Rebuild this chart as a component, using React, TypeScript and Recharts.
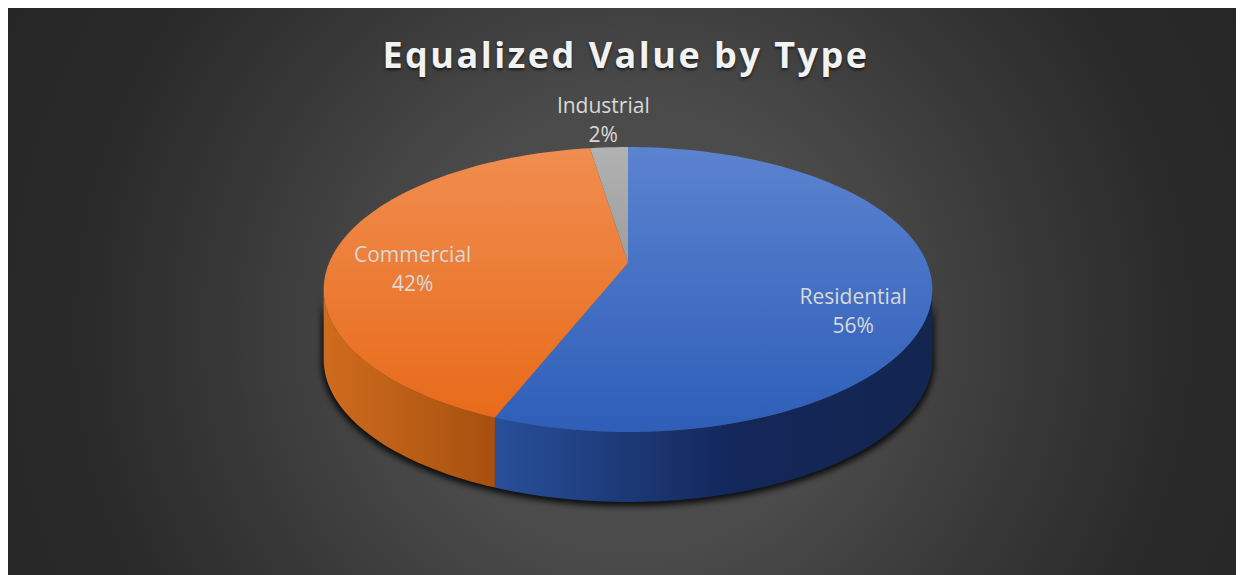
import React from "react";
import { PieChart, Pie, Cell } from "recharts";

// values (share of equalized value, %)
const CATEGORIES = ["Residential", "Commercial", "Industrial"];
const SHARES = [56.0, 41.6, 2.4];

const TOP_COLORS = [
  ["#5b83cf", "#2e5eb9"],
  ["#f08d50", "#e86b1a"],
  ["#b2b2b2", "#9d9d9d"],
];
const SIDE_COLORS = [
  ["#284f99", "#13275a", "#132650"],
  ["#cf6b1d", "#b85d15", "#a6500f"],
  ["#8a8a8a", "#7a7a7a", "#6f6f6f"],
];

const rows = CATEGORIES.map((name, i) => ({ name, value: SHARES[i] }));

// fake 3d: tilt the disc and add a little perspective
const TILT = 0.46;
const PERSP = 0.186;
const DEPTH = 70;
const RIM = (Math.asin(PERSP) * 180) / Math.PI;

const project = (cx: number, cy: number, r: number, deg: number) => {
  const a = (deg * Math.PI) / 180;
  const u = Math.cos(a);
  const v = Math.sin(a);
  const d = 1 + PERSP * v;
  return [cx + (r * u) / d, cy - (r * TILT * v) / d];
};

const arc = (cx: number, cy: number, r: number, from: number, to: number, dy = 0) => {
  const n = Math.max(2, Math.ceil(Math.abs(to - from) / 1.5));
  const pts: string[] = [];
  for (let k = 0; k <= n; k++) {
    const [x, y] = project(cx, cy, r, from + ((to - from) * k) / n);
    pts.push(`${x.toFixed(2)},${(y + dy).toFixed(2)}`);
  }
  return pts;
};

const sidePath = (cx: number, cy: number, r: number, from: number, to: number) => {
  const upper = arc(cx, cy, r, from, to);
  const lower = arc(cx, cy, r, to, from, DEPTH);
  return `M${upper.join("L")}L${lower.join("L")}Z`;
};

// part of a slice that lies on the visible (front) rim
const frontParts = (hiAngle: number, loAngle: number) => {
  const parts: [number, number][] = [];
  for (const k of [0, -360]) {
    const hi = Math.min(hiAngle, -RIM + k);
    const lo = Math.max(loAngle, -180 + RIM + k);
    if (hi > lo) parts.push([hi, lo]);
  }
  return parts;
};

const renderSlice = (props: any) => {
  const { cx, cy, outerRadius, startAngle, endAngle, percent, name, index } = props;
  const r = outerRadius;
  const hi = Math.max(startAngle, endAngle);
  const lo = Math.min(startAngle, endAngle);
  const mid = (hi + lo) / 2;

  let lx: number;
  let ly: number;
  if (percent < 0.05) {
    const [ex, ey] = project(cx, cy, r, mid);
    const [ox] = project(cx, cy, r * 1.3, mid);
    lx = ox;
    ly = ey - 26;
  } else {
    const [px, py] = project(cx, cy, r * 0.74, mid);
    lx = px;
    ly = cy + (py - cy) * 1.37 + 22;
  }

  return (
    <g key={`slice-${index}`}>
      {index === 0 && (
        <>
          <defs>
            <filter id="pieShadow" x="-10%" y="-20%" width="120%" height="160%">
              <feGaussianBlur stdDeviation="3" />
            </filter>
            {TOP_COLORS.map((c, i) => (
              <linearGradient key={`t${i}`} id={`top-${i}`} x1="0" y1="0" x2="0" y2="1">
                <stop offset="0%" stopColor={c[0]} />
                <stop offset="100%" stopColor={c[1]} />
              </linearGradient>
            ))}
            {SIDE_COLORS.map((c, i) => (
              <linearGradient key={`s${i}`} id={`side-${i}`} x1="0" y1="0" x2="1" y2="0">
                <stop offset="0%" stopColor={c[0]} />
                <stop offset="55%" stopColor={c[1]} />
                <stop offset="100%" stopColor={c[2]} />
              </linearGradient>
            ))}
          </defs>
          <path
            d={sidePath(cx, cy, r + 2, -RIM + 2, -180 + RIM - 2)}
            transform="translate(0,3)"
            fill="#000"
            fillOpacity={0.85}
            filter="url(#pieShadow)"
          />
        </>
      )}
      {frontParts(hi, lo).map(([a, b], k) => (
        <path key={k} d={sidePath(cx, cy, r, a, b)} fill={`url(#side-${index})`} />
      ))}
      <path
        d={`M${cx},${cy}L${arc(cx, cy, r, hi, lo).join("L")}Z`}
        fill={`url(#top-${index})`}
      />
      <text
        x={lx}
        y={ly}
        textAnchor="middle"
        fill="#d9d9d9"
        fontFamily="'Open Sans', sans-serif"
        fontSize={21}
      >
        <tspan x={lx} y={ly - 8}>
          {name}
        </tspan>
        <tspan x={lx} y={ly + 21}>
          {`${Math.round(percent * 100)}%`}
        </tspan>
      </text>
    </g>
  );
};

export default function App() {
  return (
    <div
      style={{
        position: "relative",
        width: 1236,
        height: 567,
        background:
          "radial-gradient(circle at 624px 322px, #525252 0px, #4a4a4a 230px, #383838 400px, #2a2a2a 550px, #262626 700px)",
      }}
    >
      <div
        style={{
          position: "absolute",
          left: 0,
          top: 29,
          width: "100%",
          textAlign: "center",
          fontFamily: "'Open Sans', sans-serif",
          fontWeight: 700,
          fontSize: 36,
          lineHeight: "36px",
          letterSpacing: 2.5,
          color: "#f2f2f2",
          textShadow: "0 2px 3px rgba(0,0,0,0.6)",
        }}
      >
        Equalized Value by Type
      </div>
      <PieChart width={1236} height={567} style={{ position: "absolute", left: 0, top: 0 }}>
        <Pie
          data={rows}
          dataKey="value"
          nameKey="name"
          cx={615}
          cy={250}
          outerRadius={299}
          startAngle={90}
          endAngle={-270}
          stroke="none"
          label={renderSlice}
          labelLine={false}
          isAnimationActive={false}
        >
          {rows.map((row) => (
            <Cell key={row.name} fill="transparent" />
          ))}
        </Pie>
      </PieChart>
    </div>
  );
}
